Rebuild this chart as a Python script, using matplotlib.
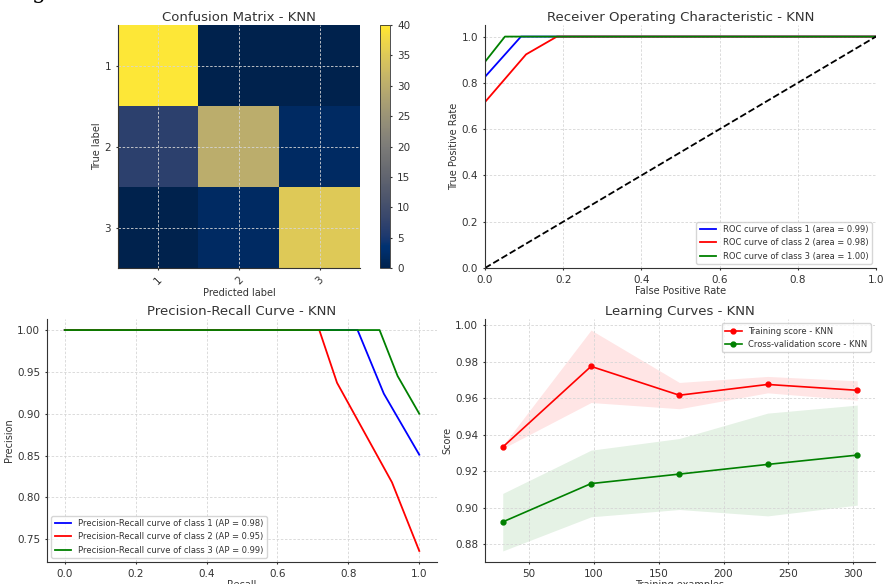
import numpy as np
import matplotlib
matplotlib.use("Agg")
import matplotlib.pyplot as plt

# confusion matrix (rows = true, cols = predicted)
class_labels = ["1", "2", "3"]
cm = np.array([[40, 0, 0],
               [7, 30, 2],
               [0, 2, 35]])

# ROC points per class
roc_fpr = [[0.0, 0.092, 1.0],
           [0.0, 0.105, 0.184, 1.0],
           [0.0, 0.051, 1.0]]
roc_tpr = [[0.826, 1.0, 1.0],
           [0.717, 0.923, 1.0, 1.0],
           [0.891, 1.0, 1.0]]
roc_auc = [0.99, 0.98, 1.00]

# precision-recall points per class
pr_recall = [[0.0, 0.826, 0.9, 1.0],
             [0.0, 0.718, 0.768, 0.923, 1.0],
             [0.0, 0.888, 0.939, 1.0]]
pr_precision = [[1.0, 1.0, 0.924, 0.851],
                [1.0, 1.0, 0.937, 0.818, 0.736],
                [1.0, 1.0, 0.945, 0.900]]
pr_ap = [0.98, 0.95, 0.99]

# learning curve
train_sizes = [30, 98, 166, 234, 303]
train_mean = [0.9332, 0.9774, 0.9616, 0.9675, 0.9643]
train_upper = [0.9340, 0.9973, 0.9686, 0.9719, 0.9695]
train_lower = [0.9324, 0.9576, 0.9542, 0.9629, 0.9589]
cv_mean = [0.8922, 0.9132, 0.9184, 0.9237, 0.9288]
cv_upper = [0.9078, 0.9315, 0.9379, 0.9518, 0.9562]
cv_lower = [0.8763, 0.8950, 0.8990, 0.8955, 0.9014]

colors = ["blue", "red", "green"]
text_c = "#333333"

plt.rcParams.update({
    "font.family": "DejaVu Sans",
    "text.color": text_c,
    "axes.labelcolor": text_c,
    "xtick.color": text_c,
    "ytick.color": text_c,
    "axes.edgecolor": "#333333",
    "axes.linewidth": 0.8,
    "axes.spines.top": False,
    "axes.spines.right": False,
    "grid.color": "#d6d6d6",
    "grid.linestyle": (0, (3, 2)),
    "grid.linewidth": 0.6,
    "xtick.major.size": 1.5,
    "ytick.major.size": 1.5,
    "xtick.labelsize": 7.5,
    "ytick.labelsize": 7.5,
    "axes.labelsize": 7,
    "axes.titlesize": 9.5,
    "legend.fontsize": 6,
})

fig = plt.figure(figsize=(8.84, 5.84), dpi=100)

W, H = 884.0, 584.0
def box(x0, y0, x1, y1):
    return [x0 / W, 1 - y1 / H, (x1 - x0) / W, (y1 - y0) / H]

# Confusion matrix
ax1 = fig.add_axes(box(118, 25, 360, 268))
im = ax1.imshow(cm, cmap="cividis", vmin=0, vmax=40, aspect="auto")
ax1.set_title("Confusion Matrix - KNN", pad=3)
ax1.set_xticks(range(3))
ax1.set_xticklabels(class_labels, rotation=45)
ax1.set_yticks(range(3))
ax1.set_yticklabels(class_labels)
ax1.set_xlabel("Predicted label", labelpad=1)
ax1.set_ylabel("True label", labelpad=2)
ax1.grid(True)
cax = fig.add_axes(box(380, 25, 390, 268))
cb = fig.colorbar(im, cax=cax, ticks=range(0, 41, 5))
cb.outline.set_edgecolor("#333333")
cb.outline.set_linewidth(0.6)
cax.tick_params(labelsize=7.5, length=1.5)

# ROC
ax2 = fig.add_axes(box(485, 25, 876, 268))
for i in range(3):
    ax2.plot(roc_fpr[i], roc_tpr[i], color=colors[i], lw=1.3,
             label="ROC curve of class {} (area = {:.2f})".format(i + 1, roc_auc[i]))
ax2.plot([0, 1], [0, 1], "k--", lw=1.3)
ax2.set_xlim(0.0, 1.0)
ax2.set_ylim(0.0, 1.05)
ax2.set_xlabel("False Positive Rate", labelpad=1)
ax2.set_ylabel("True Positive Rate", labelpad=2)
ax2.set_title("Receiver Operating Characteristic - KNN", pad=3)
ax2.grid(True)
ax2.legend(loc="lower right")

# Precision-recall
ax3 = fig.add_axes(box(47, 319, 437, 562))
for i in range(3):
    ax3.plot(pr_recall[i], pr_precision[i], color=colors[i], lw=1.3,
             label="Precision-Recall curve of class {} (AP = {:.2f})".format(i + 1, pr_ap[i]))
ax3.set_xlabel("Recall", labelpad=1)
ax3.set_ylabel("Precision", labelpad=2)
ax3.set_title("Precision-Recall Curve - KNN", pad=3)
ax3.grid(True)
ax3.legend(loc="lower left")

# Learning curves
ax4 = fig.add_axes(box(485, 319, 875, 562))
ax4.fill_between(train_sizes, train_lower, train_upper, alpha=0.1, color="r", lw=0)
ax4.fill_between(train_sizes, cv_lower, cv_upper, alpha=0.1, color="g", lw=0)
ax4.plot(train_sizes, train_mean, "o-", color="r", ms=3.5, lw=1.2, label="Training score - KNN")
ax4.plot(train_sizes, cv_mean, "o-", color="g", ms=3.5, lw=1.2, label="Cross-validation score - KNN")
ax4.set_xlabel("Training examples", labelpad=1)
ax4.set_ylabel("Score", labelpad=2)
ax4.set_title("Learning Curves - KNN", pad=3)
ax4.grid(True)
ax4.legend(loc="best")

# cut-off glyph from the surrounding page
fig.text(0.036, 1.004, "g", fontsize=16, family="DejaVu Serif", color="black", va="baseline")

fig.savefig("out.png", dpi=100)
